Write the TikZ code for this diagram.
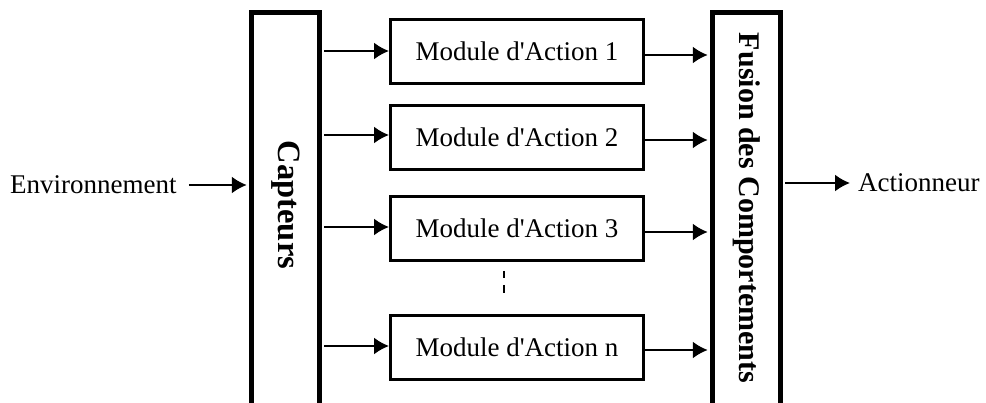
\documentclass[tikz,border=0pt]{standalone}
\usepackage{fontspec}
\setmainfont{Liberation Serif}
\usetikzlibrary{arrows.meta}
\begin{document}
\begin{tikzpicture}[x=1pt,y=-1pt,
  modbox/.style={draw,line width=3pt,minimum width=253pt,minimum height=64pt,inner sep=0pt,font=\fontsize{27}{30}\selectfont},
  tallbox/.style={draw,line width=5pt,minimum width=67.5pt,minimum height=420pt,inner sep=0pt},
  vlabel/.style={rotate=-90,inner sep=0pt,font=\bfseries},
  plain/.style={inner sep=0pt,font=\fontsize{27}{30}\selectfont},
  arr/.style={line width=2pt,-{Latex[length=15pt,width=17pt]}}]
\useasboundingbox (0,0) rectangle (986,403);
\clip (0,0) rectangle (986,403);
\fill[white] (0,0) rectangle (986,403);
% tall boxes
\node[tallbox] (cap) at (285.5,222.5) {};
\node[tallbox] (fus) at (746.5,222.5) {};
\node[vlabel,font=\bfseries\fontsize{32.5}{34}\selectfont] (captxt) at (285.5,205) {Capteurs};
\node[vlabel,font=\bfseries\fontsize{30}{32}\selectfont] (fustxt) at (746.5,208) {Fusion des Comportements};
% modules
\node[modbox] (m1) at (517,51.5) {Module d\textquotesingle Action 1};
\node[modbox] (m2) at (517,137.5) {Module d\textquotesingle Action 2};
\node[modbox] (m3) at (517,228.5) {Module d\textquotesingle Action 3};
\node[modbox] (mn) at (517,347.5) {Module d\textquotesingle Action n};
% external labels
\node[plain,anchor=west] (env) at (10,185) {Environnement};
\node[plain,anchor=west] (act) at (858,183) {Actionneur};
% arrows
\draw[arr] (env.east) ++(12,0) -- ([xshift=-2.5pt]cap.west |- env.east);
\draw[arr] ([xshift=2.5pt]fus.east |- act.west) -- ([xshift=-8pt]act.west);
\foreach \m/\dl/\dr in {m1/0.5/-3.5, m2/2.5/-2.5, m3/1.5/-3.5, mn/1.5/-2.5}{
  \draw[arr] ([xshift=2.5pt,yshift=\dl pt]cap.east |- \m.west) -- ([yshift=\dl pt]\m.west);
  \draw[arr] ([yshift=\dr pt]\m.east) -- ([xshift=-2.5pt,yshift=\dr pt]fus.west |- \m.east);
}
% dashes
\coordinate (d1) at (504,271);
\coordinate (d2) at (504,278);
\coordinate (d3) at (504,285);
\coordinate (d4) at (504,293);
\draw[line width=2pt] (d1) -- (d2) (d3) -- (d4);
\end{tikzpicture}
\end{document}
